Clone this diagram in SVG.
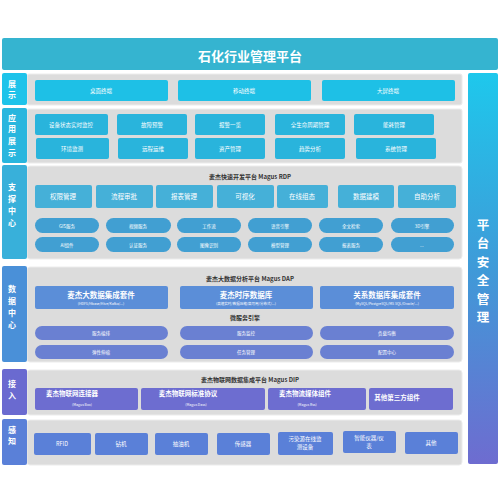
<svg xmlns="http://www.w3.org/2000/svg" width="500" height="500" viewBox="0 0 500 500">
<defs>
<linearGradient id="sec" x1="0" y1="0" x2="0" y2="1">
<stop offset="0" stop-color="#1ec8ec"/><stop offset="0.5" stop-color="#3f9ad8"/><stop offset="1" stop-color="#6e6cd0"/>
</linearGradient>
<style>
text{font-family:"Noto Sans CJK SC","Noto Sans",sans-serif;fill:#fff;text-anchor:middle;dominant-baseline:central}
.panel{fill:#dcdcdc;stroke:#ececec;stroke-width:1}
.lab{font-size:8px;font-weight:bold}
.s{font-size:5.5px}
.m{font-size:6.5px}
.ttl{font-size:6px;fill:#333;font-weight:bold}
.sub{font-size:3.5px}
.sec{font-size:12.5px;font-weight:bold}
</style>
</defs>
<rect width="500" height="500" fill="#fff"/>
<g id="title"><rect x="2" y="38" width="496" height="32" rx="2" fill="#35b4d0"/><text x="250" y="55" font-size="13" font-weight="bold">石化行业管理平台</text></g>
<g id="security"><rect x="468" y="73" width="30" height="391" rx="2" fill="url(#sec)"/>
<text class="sec" x="483" y="224">平</text><text class="sec" x="483" y="242.5">台</text><text class="sec" x="483" y="261">安</text><text class="sec" x="483" y="279.5">全</text><text class="sec" x="483" y="298">管</text><text class="sec" x="483" y="316.5">理</text></g>

<g id="row-display">
<rect class="panel" x="27" y="74" width="435" height="31" rx="2"/>
<rect x="2" y="73" width="25" height="32" rx="2" fill="#1ec3ea"/>
<text class="lab" x="12" y="83">展</text><text class="lab" x="12" y="94">示</text>
<g fill="#1ec0e6"><rect x="35" y="80" width="133" height="21" rx="2"/><rect x="178" y="80" width="133" height="21" rx="2"/><rect x="322" y="80" width="133" height="21" rx="2"/></g>
<text class="s" x="101" y="91">桌面终端</text><text class="s" x="244" y="91">移动终端</text><text class="s" x="388" y="91">大屏终端</text>
</g>

<g id="row-app">
<rect class="panel" x="27" y="109" width="435" height="54" rx="2"/>
<rect x="2" y="108" width="25" height="55" rx="2" fill="#29b6de"/>
<text class="lab" x="12" y="117">应</text><text class="lab" x="12" y="128">用</text><text class="lab" x="12" y="140">展</text><text class="lab" x="12" y="152">示</text>
<g fill="#29b4dc">
<rect x="35" y="114" width="73" height="21" rx="2"/><rect x="117" y="114" width="70" height="21" rx="2"/><rect x="195" y="114" width="70" height="21" rx="2"/><rect x="275" y="114" width="70" height="21" rx="2"/><rect x="354" y="114" width="80" height="21" rx="2"/>
<rect x="36" y="138" width="73" height="21" rx="2"/><rect x="118" y="138" width="70" height="21" rx="2"/><rect x="195" y="138" width="70" height="21" rx="2"/><rect x="275" y="138" width="70" height="21" rx="2"/><rect x="356" y="138" width="80" height="21" rx="2"/>
</g>
<text class="s" x="71" y="125">设备状态实时监控</text><text class="s" x="152" y="125">故障预警</text><text class="s" x="230" y="125">报警一览</text><text class="s" x="310" y="125">全生命周期管理</text><text class="s" x="394" y="125">能耗管理</text>
<text class="s" x="72" y="149">环境监测</text><text class="s" x="153" y="149">远程运维</text><text class="s" x="230" y="149">资产管理</text><text class="s" x="310" y="149">趋势分析</text><text class="s" x="396" y="149">系统管理</text>
</g>

<g id="row-support">
<rect class="panel" x="27" y="166" width="435" height="93" rx="3"/>
<rect x="2" y="165" width="25" height="94" rx="2" fill="#38b0da"/>
<text class="lab" x="12" y="186">支</text><text class="lab" x="12" y="198">撑</text><text class="lab" x="12" y="210">中</text><text class="lab" x="12" y="222">心</text>
<text class="ttl" x="250" y="176">麦杰快速开发平台 Magus RDP</text>
<g fill="#45b0d8">
<rect x="35" y="185" width="57" height="23" rx="2"/><rect x="96" y="185" width="57" height="23" rx="2"/><rect x="156" y="185" width="57" height="23" rx="2"/><rect x="217" y="185" width="57" height="23" rx="2"/><rect x="277" y="185" width="51" height="23" rx="2"/><rect x="338" y="185" width="56" height="23" rx="2"/><rect x="398" y="185" width="58" height="23" rx="2"/>
</g>
<text class="m" x="63" y="196">权限管理</text><text class="m" x="124" y="196">流程审批</text><text class="m" x="184" y="196">报表管理</text><text class="m" x="245" y="196">可视化</text><text class="m" x="302" y="196">在线组态</text><text class="m" x="366" y="196">数据建模</text><text class="m" x="427" y="196">自助分析</text>
<g fill="#419fd2">
<rect x="35" y="218" width="64" height="15" rx="7.5"/><rect x="106" y="218" width="65" height="15" rx="7.5"/><rect x="177" y="218" width="64" height="15" rx="7.5"/><rect x="248" y="218" width="64" height="15" rx="7.5"/><rect x="319" y="218" width="64" height="15" rx="7.5"/><rect x="391" y="218" width="63" height="15" rx="7.5"/>
<rect x="35" y="237" width="64" height="15" rx="7.5"/><rect x="106" y="237" width="65" height="15" rx="7.5"/><rect x="177" y="237" width="64" height="15" rx="7.5"/><rect x="248" y="237" width="64" height="15" rx="7.5"/><rect x="319" y="237" width="64" height="15" rx="7.5"/><rect x="391" y="237" width="63" height="15" rx="7.5"/>
</g>
<g>
<text x="67" y="225.5" font-size="4.5">GIS服务</text><text x="138" y="225.5" font-size="4.5">视频服务</text><text x="209" y="225.5" font-size="4.5">工作流</text><text x="280" y="225.5" font-size="4.5">语音引擎</text><text x="351" y="225.5" font-size="4.5">全文检索</text><text x="422" y="225.5" font-size="4.5">3D引擎</text>
<text x="67" y="244.5" font-size="4.5">AI组件</text><text x="138" y="244.5" font-size="4.5">认证服务</text><text x="209" y="244.5" font-size="4.5">图像识别</text><text x="280" y="244.5" font-size="4.5">模型管理</text><text x="351" y="244.5" font-size="4.5">报表服务</text><text x="422" y="244.5" font-size="4.5">...</text>
</g>
</g>

<g id="row-data">
<rect class="panel" x="27" y="267" width="435" height="95" rx="3"/>
<rect x="2" y="266" width="25" height="96" rx="2" fill="#4a90d8"/>
<text class="lab" x="12" y="288">数</text><text class="lab" x="12" y="300">据</text><text class="lab" x="12" y="312">中</text><text class="lab" x="12" y="324">心</text>
<text class="ttl" x="250" y="278">麦杰大数据分析平台 Magus DAP</text>
<g fill="#5b8ed8"><rect x="35" y="286" width="133" height="23" rx="2"/><rect x="180" y="286" width="133" height="23" rx="2"/><rect x="320" y="286" width="134" height="23" rx="2"/></g>
<text x="101" y="294" font-size="7.5" font-weight="bold">麦杰大数据集成套件</text><text class="sub" x="101" y="303">(HDFS/Hbase/Hive/Kafka/...)</text>
<text x="246" y="294" font-size="7.5" font-weight="bold">麦杰时序数据库</text><text class="sub" x="246" y="303">(高速实时/数据压缩/高可用/分布式/...)</text>
<text x="387" y="294" font-size="7.5" font-weight="bold">关系数据库集成套件</text><text class="sub" x="387" y="303">(MySQL/PostgreSQL/MS SQL/Oracle/...)</text>
<text class="ttl" x="245" y="317">微服务引擎</text>
<g fill="#6a80d2"><rect x="35" y="326" width="133" height="14" rx="7"/><rect x="180" y="326" width="133" height="14" rx="7"/><rect x="320" y="326" width="134" height="14" rx="7"/>
<rect x="35" y="345" width="133" height="14" rx="7"/><rect x="180" y="345" width="133" height="14" rx="7"/><rect x="320" y="345" width="134" height="14" rx="7"/></g>
<text x="101" y="333" font-size="4.5">服务编排</text><text x="246" y="333" font-size="4.5">服务监控</text><text x="387" y="333" font-size="4.5">负载均衡</text>
<text x="101" y="352" font-size="4.5">弹性伸缩</text><text x="246" y="352" font-size="4.5">任务管理</text><text x="387" y="352" font-size="4.5">配置中心</text>
</g>

<g id="row-access">
<rect class="panel" x="27" y="370" width="435" height="45" rx="3"/>
<rect x="2" y="369" width="25" height="46" rx="2" fill="#6a6ad0"/>
<text class="lab" x="12" y="383">接</text><text class="lab" x="12" y="395">入</text>
<text class="ttl" x="250" y="379">麦杰物联网数据集成平台 Magus DIP</text>
<g fill="#6d6dd0"><rect x="35" y="388" width="103" height="22" rx="2"/><rect x="141" y="388" width="124" height="22" rx="2"/><rect x="268" y="388" width="98" height="22" rx="2"/><rect x="369" y="388" width="84" height="22" rx="2"/></g>
<text x="72" y="393" font-size="6.5" font-weight="bold">麦杰物联网连接器</text><text class="sub" x="82" y="404">(Magus Box)</text>
<text x="188" y="393" font-size="6.5" font-weight="bold">麦杰物联网标准协议</text><text class="sub" x="196" y="404">(Magus Dass)</text>
<text x="305" y="393" font-size="6.5" font-weight="bold">麦杰物流媒体组件</text><text class="sub" x="307" y="404">(Magus Rss)</text>
<text x="397" y="397" font-size="6.5" font-weight="bold">其他第三方组件</text>
</g>

<g id="row-sense">
<rect class="panel" x="27" y="420" width="435" height="45" rx="3"/>
<rect x="2" y="419" width="25" height="46" rx="2" fill="#5a80d8"/>
<text class="lab" x="12" y="429">感</text><text class="lab" x="12" y="440">知</text>
<g fill="#5a80d8"><rect x="34" y="433" width="57" height="22" rx="2"/><rect x="95" y="433" width="53" height="22" rx="2"/><rect x="155" y="433" width="53" height="22" rx="2"/><rect x="217" y="433" width="53" height="22" rx="2"/><rect x="278" y="432" width="55" height="23" rx="2"/><rect x="343" y="431" width="53" height="22" rx="2"/><rect x="405" y="432" width="53" height="22" rx="2"/></g>
<text class="s" x="62" y="444">RFID</text><text class="s" x="121" y="444">钻机</text><text class="s" x="181" y="444">抽油机</text><text class="s" x="243" y="444">传感器</text>
<text class="s" x="305" y="439">污染源在线监</text><text class="s" x="305" y="447">测设备</text>
<text class="s" x="369" y="438">智能仪器/仪</text><text class="s" x="369" y="446">表</text>
<text class="s" x="431" y="443">其他</text>
</g>
</svg>
